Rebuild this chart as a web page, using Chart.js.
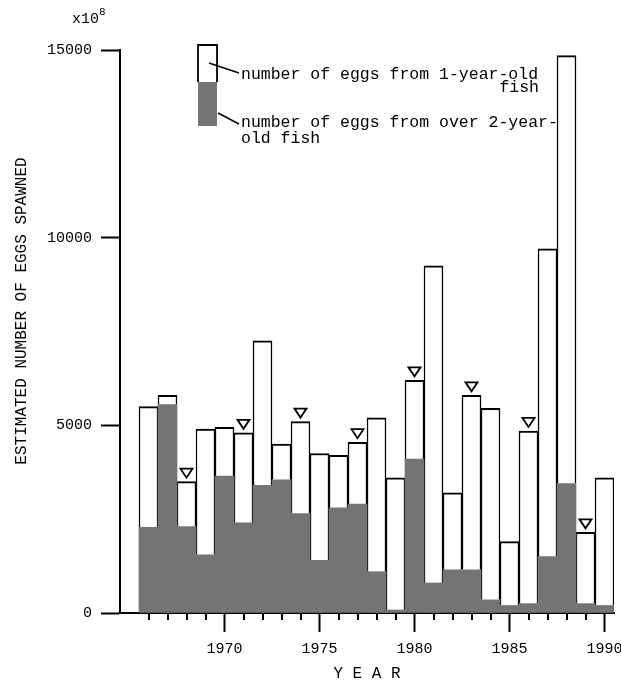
<!DOCTYPE html>
<html>
<head>
<meta charset="utf-8">
<script src="https://cdn.jsdelivr.net/npm/chart.js@4.4.1/dist/chart.umd.min.js"></script>
<style>
  body { margin: 0; background: #fff; }
  #wrap { width: 621px; height: 683px; }
</style>
</head>
<body>
<div id="wrap"><canvas id="graficoHuevos"></canvas></div>
<script>
// huevos desovados por año (x10^8)
const years = [1966, 1967, 1968, 1969, 1970, 1971, 1972, 1973, 1974, 1975, 1976, 1977, 1978,
               1979, 1980, 1981, 1982, 1983, 1984, 1985, 1986, 1987, 1988, 1989, 1990];
const eggsOverTwo = [2280, 5550, 2300, 1550, 3650, 2400, 3400, 3550, 2650, 1400, 2800, 2900, 1100,
                     80, 4100, 800, 1150, 1150, 350, 200, 250, 1500, 3450, 250, 200];
const eggsOneYear = [3220, 250, 1200, 3350, 1300, 2400, 3850, 950, 2450, 2850, 1400, 1650, 4100,
                     3520, 2100, 8450, 2050, 4650, 5100, 1700, 4600, 8200, 11400, 1900, 3400];
const markedYears = [1968, 1971, 1974, 1977, 1980, 1983, 1986, 1989];
const majorYears = [1970, 1975, 1980, 1985, 1990];
const yTicks = [0, 5000, 10000, 15000];

const FONT = '"Liberation Mono", "Courier New", monospace';
const GRAY = '#747474';

// triangulitos sobre algunas barras
const marcas = {
  id: 'marcas',
  afterDatasetsDraw(chart) {
    const meta = chart.getDatasetMeta(1);
    const c = chart.ctx;
    c.save();
    c.strokeStyle = '#000';
    c.fillStyle = '#fff';
    c.lineWidth = 1.8;
    markedYears.forEach(yr => {
      const bar = meta.data[years.indexOf(yr)];
      const x = bar.x, tip = bar.y - 4;
      c.beginPath();
      c.moveTo(x - 6, tip - 9);
      c.lineTo(x + 6, tip - 9);
      c.lineTo(x, tip);
      c.closePath();
      c.fill();
      c.stroke();
    });
    c.restore();
  }
};

// ticks cortos del eje x, titulo del eje y, leyenda y el x10^8
const extras = {
  id: 'extras',
  afterDraw(chart) {
    const c = chart.ctx;
    const xs = chart.scales.x;
    const base = chart.chartArea.bottom;
    c.save();
    c.strokeStyle = '#000';
    c.lineWidth = 2;
    years.filter(y => !majorYears.includes(y)).forEach(y => {
      const px = Math.round(xs.getPixelForValue(y));
      c.beginPath();
      c.moveTo(px, base);
      c.lineTo(px, base + 7);
      c.stroke();
    });

    c.fillStyle = '#000';
    c.textBaseline = 'middle';
    c.textAlign = 'center';
    c.font = '16px ' + FONT;
    c.save();
    c.translate(22, 311);
    c.rotate(-Math.PI / 2);
    c.fillText('ESTIMATED NUMBER OF EGGS SPAWNED', 0, 0);
    c.restore();

    // leyenda
    c.fillStyle = '#fff';
    c.fillRect(198, 45, 19, 37);
    c.fillStyle = GRAY;
    c.fillRect(198, 82, 19, 44);
    c.lineWidth = 1.8;
    c.beginPath();
    c.moveTo(198, 82); c.lineTo(198, 45); c.lineTo(217, 45); c.lineTo(217, 82);
    c.stroke();
    c.lineWidth = 1.5;
    c.beginPath();
    c.moveTo(209, 63); c.lineTo(239, 73);
    c.moveTo(218, 113); c.lineTo(239, 124);
    c.stroke();

    c.fillStyle = '#000';
    c.font = '16.5px ' + FONT;
    c.textAlign = 'left';
    c.fillText('number of eggs from 1-year-old', 241, 75);
    c.fillText('number of eggs from over 2-year-', 241, 123);
    c.fillText('old fish', 241, 139);
    c.textAlign = 'right';
    c.fillText('fish', 539, 88);

    c.textAlign = 'left';
    c.font = '15px ' + FONT;
    c.fillText('x10', 72, 19);
    c.font = '11px ' + FONT;
    c.fillText('8', 99, 12);
    c.restore();
  }
};

const ctx = document.getElementById('graficoHuevos').getContext('2d');
const graficoHuevos = new Chart(ctx, {
  type: 'bar',
  data: {
    datasets: [{
      label: 'number of eggs from over 2-year-old fish',
      data: years.map((y, i) => ({ x: y, y: eggsOverTwo[i] })),
      backgroundColor: GRAY,
      borderWidth: 0
    }, {
      label: 'number of eggs from 1-year-old fish',
      data: years.map((y, i) => ({ x: y, y: eggsOneYear[i] })),
      backgroundColor: '#fff',
      borderColor: '#000',
      borderWidth: { top: 2, left: 1.5, right: 1.5, bottom: 0 },
      borderSkipped: 'bottom'
    }]
  },
  options: {
    responsive: true,
    maintainAspectRatio: false,
    animation: false,
    categoryPercentage: 1,
    barPercentage: 1,
    layout: { padding: { left: 8, right: 7, top: 50, bottom: 0 } },
    plugins: { legend: { display: false }, tooltip: { enabled: false } },
    scales: {
      x: {
        type: 'linear',
        stacked: true,
        offset: false,
        min: 1964.5,
        max: 1990.5,
        afterBuildTicks: s => { s.ticks = years.map(v => ({ value: v })); },
        afterFit: s => { s.height = 70; s.paddingLeft = 0; s.paddingRight = 0; },
        border: { color: '#000', width: 2 },
        grid: {
          offset: false,
          drawOnChartArea: false,
          tickLength: 19,
          tickWidth: 2,
          tickColor: c => (c.tick && majorYears.includes(c.tick.value)) ? '#000' : 'rgba(0,0,0,0)'
        },
        ticks: {
          autoSkip: false,
          maxRotation: 0,
          padding: 8,
          color: '#000',
          font: { family: FONT, size: 15 },
          callback: v => majorYears.includes(v) ? String(v) : ''
        },
        title: {
          display: true,
          text: 'Y E A R',
          color: '#000',
          font: { family: FONT, size: 16 },
          padding: { top: 0, bottom: 0 }
        }
      },
      y: {
        stacked: true,
        min: 0,
        max: 15000,
        afterBuildTicks: s => { s.ticks = yTicks.map(v => ({ value: v })); },
        afterFit: s => { s.width = 112; },
        border: { color: '#000', width: 2 },
        grid: { drawOnChartArea: false, tickLength: 19, tickWidth: 2, tickColor: '#000' },
        ticks: {
          padding: 9,
          color: '#000',
          font: { family: FONT, size: 15 },
          callback: v => String(v)
        }
      }
    }
  },
  plugins: [marcas, extras]
});
</script>
</body>
</html>
